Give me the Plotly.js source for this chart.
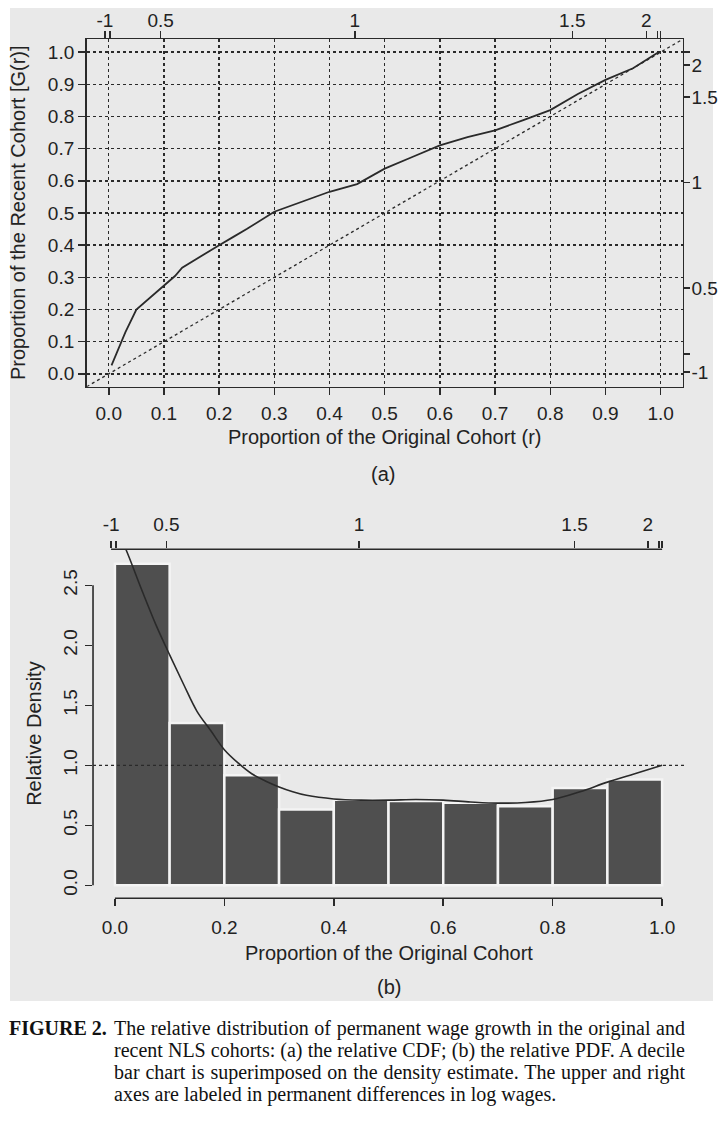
<!DOCTYPE html>
<html>
<head>
<meta charset="utf-8">
<script src="https://cdn.plot.ly/plotly-3.0.1.min.js"></script>
<style>
  body { margin: 0; background: #ffffff; }
  #scan { position: absolute; left: 10px; top: 8px; width: 703px; height: 993px; background: #e9e9e9; }
  #chart { position: absolute; left: 0; top: 0; width: 720px; height: 1000px; }
  #caption { position: absolute; left: 0; top: 1017px; width: 720px;
             font-family: 'Liberation Serif', 'Times New Roman', serif; font-size: 20px;
             line-height: 22px; color: #111; }
  #caption .lab { position: absolute; left: 9px; top: 0; font-weight: bold; }
  #caption .line { margin-left: 114px; width: 571px; white-space: nowrap; }
  #caption .j { text-align: justify; text-align-last: justify; }
</style>
</head>
<body>
<div id="scan"></div>
<div id="chart"></div>
<div id="caption">
  <span class="lab">FIGURE 2.</span>
  <div class="line j">The relative distribution of permanent wage growth in the original and</div>
  <div class="line j">recent NLS cohorts: (a) the relative CDF; (b) the relative PDF. A decile</div>
  <div class="line j">bar chart is superimposed on the density estimate. The upper and right</div>
  <div class="line">axes are labeled in permanent differences in log wages.</div>
</div>
<script>
// (a) relative CDF
var cdfR = [0.005, 0.015, 0.03, 0.05, 0.075, 0.1, 0.12, 0.133, 0.15, 0.175, 0.2, 0.225, 0.25, 0.3,
            0.35, 0.4, 0.45, 0.5, 0.55, 0.6, 0.65, 0.7, 0.75, 0.8, 0.85, 0.9, 0.95, 0.996];
var cdfG = [0.026, 0.067, 0.129, 0.2, 0.237, 0.273, 0.304, 0.33, 0.348, 0.375, 0.4, 0.425, 0.45, 0.504,
            0.535, 0.566, 0.59, 0.638, 0.674, 0.71, 0.736, 0.757, 0.788, 0.82, 0.87, 0.914, 0.95, 1.0];

// (b) decile bars and density estimate
var decileMid = [0.05, 0.15, 0.25, 0.35, 0.45, 0.55, 0.65, 0.75, 0.85, 0.95];
var decileDensity = [2.68, 1.352, 0.917, 0.631, 0.714, 0.703, 0.689, 0.658, 0.811, 0.881];
var pdfR = [0.0, 0.02, 0.05, 0.075, 0.1, 0.125, 0.15, 0.175, 0.2, 0.225, 0.25, 0.275, 0.3, 0.325, 0.35,
            0.4, 0.45, 0.5, 0.55, 0.6, 0.65, 0.7, 0.75, 0.8, 0.85, 0.9, 0.95, 1.0];
var pdfDensity = [3.0, 2.8, 2.45, 2.17, 1.92, 1.68, 1.45, 1.29, 1.13, 1.02, 0.93, 0.87, 0.82, 0.78, 0.75,
                  0.72, 0.71, 0.71, 0.715, 0.71, 0.695, 0.685, 0.69, 0.715, 0.78, 0.86, 0.93, 1.0];

// ticks
var propTicks = [0, 0.1, 0.2, 0.3, 0.4, 0.5, 0.6, 0.7, 0.8, 0.9, 1.0];
var propTicksB = [0, 0.2, 0.4, 0.6, 0.8, 1.0];
var densityTicks = [0, 0.5, 1.0, 1.5, 2.0, 2.5];
var topTickVals = [-0.007, 0.002, 0.094, 0.446, 0.84, 0.974, 0.994, 1.0];
var topTickText = ['-1', '', '0.5', '1', '1.5', '2', '', ''];
var rightTickVals = [0.005, 0.061, 0.267, 0.595, 0.86, 0.96, 1.0];
var rightTickText = ['-1', '', '0.5', '1', '1.5', '2', ''];

var rRange = [-0.04, 1.04];
var densRange = [-0.108, 2.8];
var ink = '#2a2a2a';
var tickFont = {family: 'Liberation Sans, Arial, sans-serif', size: 19, color: '#222'};
var titleFont = {family: 'Liberation Sans, Arial, sans-serif', size: 20, color: '#222'};

function fmt(v){ return v.toFixed(1); }

// invisible helper so the secondary (top / right) axes get drawn
function axisHolder(xs, ys, xa, ya){
  return {x: xs, y: ys, xaxis: xa, yaxis: ya, type: 'scatter', mode: 'markers',
          marker: {opacity: 0, size: 1}, hoverinfo: 'skip'};
}

var data = [
  {x: cdfR, y: cdfG, xaxis: 'x', yaxis: 'y', type: 'scatter', mode: 'lines',
   line: {color: ink, width: 1.8}, hoverinfo: 'skip'},
  axisHolder(topTickVals, topTickVals, 'x2', 'y'),
  axisHolder(rightTickVals, rightTickVals, 'x', 'y2'),
  {x: decileMid, y: decileDensity, xaxis: 'x3', yaxis: 'y3', type: 'bar', width: 0.1,
   marker: {color: '#4f4f4f', line: {color: '#f4f4f4', width: 2.5}}},
  {x: pdfR, y: pdfDensity, xaxis: 'x3', yaxis: 'y3', type: 'scatter', mode: 'lines',
   line: {color: ink, width: 1.6, shape: 'spline'}},
  axisHolder(topTickVals, topTickVals, 'x4', 'y3')
];

var baseAxis = {
  ticks: 'outside', ticklen: 7, tickwidth: 1.5, tickcolor: ink,
  tickfont: tickFont, zeroline: false, fixedrange: true
};

function ax(extra){ return Object.assign({}, baseAxis, extra); }

var layout = {
  width: 720, height: 1000,
  margin: {l: 0, r: 0, t: 0, b: 0},
  paper_bgcolor: 'rgba(0,0,0,0)',
  plot_bgcolor: 'rgba(0,0,0,0)',
  showlegend: false,
  bargap: 0,
  // panel (a)
  xaxis: ax({domain: [0.1204, 0.9482], anchor: 'y', range: rRange,
    tickvals: propTicks, ticktext: propTicks.map(fmt), ticklabelstandoff: 2,
    showgrid: true, gridcolor: ink, gridwidth: 1.4, griddash: 'dot',
    showline: true, mirror: true, linecolor: ink, linewidth: 1.6}),
  yaxis: ax({domain: [0.6133, 0.9607], anchor: 'x', range: rRange,
    tickvals: propTicks, ticktext: propTicks.map(fmt),
    showgrid: true, gridcolor: ink, gridwidth: 1.4, griddash: 'dot',
    showline: true, mirror: true, linecolor: ink, linewidth: 1.6}),
  xaxis2: ax({overlaying: 'x', side: 'top', anchor: 'y', range: rRange, ticklabelstandoff: -3,
    tickvals: topTickVals, ticktext: topTickText, showgrid: false, showline: false}),
  yaxis2: ax({overlaying: 'y', side: 'right', anchor: 'x', range: rRange,
    tickvals: rightTickVals, ticktext: rightTickText, showgrid: false, showline: false,
    ticklen: 6, ticklabelstandoff: -2}),
  // panel (b)
  xaxis3: ax({domain: [0.1292, 0.95], anchor: 'y3', range: rRange,
    tickvals: propTicksB, ticktext: propTicksB.map(fmt), ticklabelstandoff: 5,
    showgrid: false, showline: false}),
  yaxis3: ax({domain: [0.1017, 0.4507], anchor: 'x3', range: densRange,
    tickvals: densityTicks, ticktext: densityTicks.map(fmt), tickangle: -90,
    showgrid: false, showline: false}),
  xaxis4: ax({overlaying: 'x3', side: 'top', anchor: 'y3', range: rRange, ticklabelstandoff: 3,
    tickvals: topTickVals, ticktext: topTickText, showgrid: false, showline: false}),
  shapes: [
    // 45 degree reference line
    {type: 'line', xref: 'x', yref: 'y', x0: rRange[0], y0: rRange[0], x1: rRange[1], y1: rRange[1],
     line: {color: ink, width: 1.3, dash: 'dot'}},
    // uniform density reference
    {type: 'line', xref: 'x3 domain', yref: 'y3', x0: 0, x1: 1, y0: 1, y1: 1,
     line: {color: ink, width: 1.3, dash: 'dot'}},
    // R style axis lines for panel (b)
    {type: 'line', xref: 'x3 domain', yref: 'y3', x0: 0, x1: 0,
     y0: densityTicks[0], y1: densityTicks[densityTicks.length - 1], line: {color: ink, width: 1.6}},
    {type: 'line', xref: 'x3', yref: 'y3 domain', y0: 0, y1: 0,
     x0: propTicksB[0], x1: propTicksB[propTicksB.length - 1], line: {color: ink, width: 1.6}},
    {type: 'line', xref: 'x3', yref: 'y3 domain', y0: 1, y1: 1,
     x0: topTickVals[0], x1: topTickVals[topTickVals.length - 1], line: {color: ink, width: 1.6}}
  ],
  annotations: [
    {text: 'Proportion of the Recent Cohort [G(r)]', xref: 'paper', yref: 'paper', x: 0.025, y: 0.787,
     textangle: -90, showarrow: false, font: titleFont, xanchor: 'center', yanchor: 'middle'},
    {text: 'Proportion of the Original Cohort (r)', xref: 'paper', yref: 'paper', x: 0.534, y: 0.563,
     showarrow: false, font: titleFont, xanchor: 'center', yanchor: 'middle'},
    {text: '(a)', xref: 'paper', yref: 'paper', x: 0.532, y: 0.526,
     showarrow: false, font: titleFont, xanchor: 'center', yanchor: 'middle'},
    {text: 'Relative Density', xref: 'paper', yref: 'paper', x: 0.047, y: 0.267,
     textangle: -90, showarrow: false, font: titleFont, xanchor: 'center', yanchor: 'middle'},
    {text: 'Proportion of the Original Cohort', xref: 'paper', yref: 'paper', x: 0.54, y: 0.047,
     showarrow: false, font: titleFont, xanchor: 'center', yanchor: 'middle'},
    {text: '(b)', xref: 'paper', yref: 'paper', x: 0.54, y: 0.013,
     showarrow: false, font: titleFont, xanchor: 'center', yanchor: 'middle'}
  ]
};

Plotly.newPlot('chart', data, layout, {staticPlot: true, displayModeBar: false});
</script>
</body>
</html>
